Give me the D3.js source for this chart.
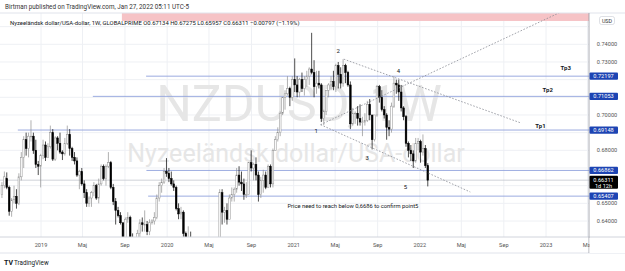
<!DOCTYPE html>
<html>
<head>
<meta charset="utf-8">
<script src="https://cdn.jsdelivr.net/npm/d3@7"></script>
<style>
  html, body { margin: 0; padding: 0; background: #fff; }
  svg { display: block; font-family: Roboto, "DejaVu Sans", sans-serif; }
</style>
</head>
<body>
<div id="chart"></div>
<script>
// NZDUSD weekly chart, rebuilt from a TradingView snapshot

// weekly bars [open, high, low, close], week starting Monday
const bars2018 = [
  [.6550,.6620,.6530,.6600],[.6600,.6680,.6585,.6650],[.6640,.6675,.6580,.6590],[.6590,.6600,.6430,.6455],
  [.6455,.6530,.6424,.6520],[.6520,.6600,.6500,.6540],[.6540,.6580,.6470,.6500],[.6500,.6670,.6490,.6650],
  [.6650,.6790,.6630,.6760],[.6760,.6880,.6700,.6860],[.6860,.6900,.6770,.6810],[.6810,.6900,.6760,.6880],
  [.6880,.6970,.6850,.6880],[.6880,.6900,.6780,.6800],[.6800,.6860,.6700,.6720],[.6720,.6740,.6660,.6710],
  [.6710,.6780,.6590,.6770]
];
const bars2019 = [
  [.6770,.6860,.6750,.6830],[.6830,.6850,.6740,.6760],[.6760,.6840,.6760,.6820],[.6820,.6940,.6810,.6900],
  [.6900,.6920,.6740,.6750],[.6750,.6880,.6740,.6870],[.6870,.6880,.6800,.6840],[.6840,.6900,.6780,.6790],
  [.6790,.6800,.6745,.6780],[.6780,.6870,.6770,.6840],[.6840,.6940,.6830,.6890],[.6890,.6920,.6770,.6810],
  [.6810,.6820,.6740,.6760],[.6760,.6790,.6720,.6740],[.6740,.6760,.6650,.6660],[.6660,.6690,.6580,.6680],
  [.6680,.6700,.6600,.6610],[.6610,.6630,.6530,.6560],[.6560,.6580,.6480,.6500],[.6500,.6540,.6480,.6530],
  [.6530,.6570,.6480,.6560],[.6560,.6620,.6540,.6600],[.6600,.6610,.6520,.6530],[.6530,.6640,.6500,.6610],
  [.6610,.6720,.6600,.6710],[.6710,.6720,.6630,.6640],[.6640,.6720,.6600,.6710],[.6710,.6790,.6700,.6730],
  [.6730,.6740,.6580,.6590],[.6590,.6610,.6490,.6510],[.6510,.6530,.6380,.6460],[.6460,.6480,.6420,.6430],
  [.6430,.6450,.6380,.6390],[.6390,.6390,.6270,.6300],[.6300,.6420,.6290,.6410],[.6410,.6450,.6390,.6420],
  [.6420,.6430,.6250,.6260],[.6260,.6330,.6240,.6250],[.6250,.6300,.6200,.6280],[.6280,.6350,.6270,.6330],
  [.6330,.6410,.6280,.6390],[.6390,.6420,.6340,.6380],[.6380,.6460,.6340,.6380],[.6380,.6400,.6320,.6340],
  [.6340,.6410,.6320,.6390],[.6390,.6410,.6380,.6400],[.6400,.6450,.6380,.6420],[.6420,.6550,.6410,.6530],
  [.6530,.6620,.6510,.6600],[.6600,.6640,.6560,.6620],[.6620,.6700,.6610,.6680],[.6680,.6756,.6650,.6670]
];
const bars2020 = [
  [.6670,.6700,.6620,.6640],[.6640,.6680,.6600,.6610],[.6610,.6630,.6570,.6590],[.6590,.6600,.6460,.6470],
  [.6470,.6500,.6410,.6440],[.6440,.6480,.6410,.6450],[.6450,.6460,.6310,.6330],[.6330,.6340,.6180,.6240],
  [.6240,.6370,.6220,.6240],[.6240,.6340,.5900,.5960],[.5960,.6020,.5470,.5700],[.5700,.6060,.5700,.6050],
  [.6050,.6060,.5840,.5890],[.5890,.6100,.5880,.6080],[.6080,.6100,.5920,.5970],[.5970,.6030,.5910,.5970],
  [.5970,.6150,.5960,.6060],[.6060,.6150,.6040,.6120],[.6120,.6140,.5920,.5960],[.5960,.6140,.5940,.6130],
  [.6130,.6230,.6080,.6220],[.6220,.6580,.6210,.6560],[.6560,.6580,.6380,.6450],[.6450,.6480,.6390,.6460],
  [.6460,.6500,.6380,.6410],[.6410,.6550,.6410,.6530],[.6530,.6590,.6510,.6550],[.6550,.6590,.6510,.6580],
  [.6580,.6700,.6560,.6660],[.6660,.6710,.6600,.6620],[.6620,.6680,.6570,.6610],[.6610,.6640,.6520,.6550],
  [.6550,.6620,.6530,.6550],[.6550,.6730,.6550,.6730],[.6730,.6800,.6680,.6700],[.6700,.6730,.6630,.6720],
  [.6720,.6760,.6630,.6660],[.6660,.6680,.6510,.6550],[.6550,.6650,.6530,.6630],[.6630,.6690,.6560,.6660],
  [.6660,.6680,.6580,.6590],[.6590,.6720,.6590,.6710],[.6710,.6720,.6590,.6610],[.6610,.6810,.6590,.6800],
  [.6800,.6880,.6800,.6860],[.6860,.6930,.6850,.6900],[.6900,.7020,.6880,.7010],[.7010,.7100,.7000,.7100],
  [.7100,.7140,.7030,.7120],[.7120,.7220,.7110,.7150],[.7150,.7160,.7050,.7100],[.7100,.7220,.7080,.7200]
];
const bars2021 = [
  [.7200,.7320,.7130,.7170],[.7170,.7220,.7100,.7130],[.7130,.7210,.7100,.7200],[.7200,.7240,.7130,.7150],
  [.7150,.7220,.7110,.7200],[.7200,.7250,.7160,.7220],[.7220,.7270,.7170,.7260],[.7260,.7465,.7230,.7240],
  [.7240,.7310,.7100,.7160],[.7160,.7250,.7120,.7180],[.7180,.7250,.7150,.7170],[.7170,.7180,.6960,.6980],
  [.6980,.7030,.6943,.7020],[.7020,.7140,.7000,.7140],[.7140,.7180,.7100,.7170],[.7170,.7220,.7140,.7190],
  [.7190,.7250,.7140,.7160],[.7160,.7290,.7130,.7280],[.7280,.7300,.7150,.7230],[.7230,.7270,.7150,.7180],
  [.7180,.7316,.7160,.7280],[.7280,.7290,.7180,.7240],[.7240,.7250,.7160,.7170],[.7170,.7190,.6920,.6950],
  [.6950,.7040,.6940,.7010],[.7010,.7020,.6950,.7010],[.7010,.7050,.6940,.6980],[.6980,.7060,.6940,.6960],
  [.6960,.6990,.6880,.6960],[.6960,.7010,.6940,.6970],[.6970,.7080,.6960,.7060],[.7060,.7090,.6970,.7000],
  [.7000,.7000,.6805,.6860],[.6860,.7000,.6850,.7000],[.7000,.7170,.6990,.7160],[.7160,.7170,.7070,.7100],
  [.7100,.7140,.7020,.7030],[.7030,.7050,.6980,.7000],[.7000,.7010,.6860,.6930],[.6930,.6970,.6880,.6920],
  [.6920,.7070,.6900,.7050],[.7050,.7219,.7040,.7180],[.7180,.7200,.7120,.7170],[.7170,.7200,.7080,.7130],
  [.7130,.7170,.7020,.7040],[.7040,.7050,.6970,.6990],[.6990,.7000,.6820,.6840],[.6840,.6850,.6760,.6800],
  [.6800,.6830,.6740,.6780],[.6780,.6800,.6700,.6740],[.6740,.6870,.6730,.6840],[.6840,.6870,.6800,.6850]
];
const bars2022 = [
  [.6850,.6860,.6730,.6790],[.6790,.6890,.6770,.6810],[.6810,.6830,.6700,.6713],[.67134,.67275,.65957,.66311]
];

const firstWeek = "2018-09-10";
const lastWeek = "2022-01-24";

// price axis: grid levels and the labels left visible next to the tags
const priceTicks = [0.64, 0.65, 0.66, 0.67, 0.68, 0.69, 0.70, 0.71, 0.72, 0.73, 0.74, 0.75];
const priceLabels = [0.64, 0.65, 0.68, 0.70, 0.73, 0.74];

// horizontal levels drawn on the chart: price and start date
const levelPrices = [0.72197, 0.71053, 0.69148, 0.66862, 0.65407];
const levelStarts = ["2019-11-01", "2019-05-31", "2018-10-26", "2019-11-02", "2019-11-07"];

// dashed trend lines [date1, price1, date2, price2]
const trendLines = [
  ["2021-05-26", 0.7316, "2022-10-20", 0.6955],
  ["2021-03-20", 0.6945, "2023-04-22", 0.7645],
  ["2021-03-20", 0.6945, "2022-05-27", 0.6564]
];

// wave labels and targets
const waveLabels = ["1", "2", "3", "4", "5"];
const waveDates = ["2021-03-07", "2021-05-10", "2021-08-02", "2021-10-31", "2021-11-20"];
const wavePrices = [0.6909, 0.7362, 0.6757, 0.7249, 0.6592];

const targetLabels = ["Tp3", "Tp2", "Tp1"];
const targetDates = ["2023-02-27", "2023-01-06", "2022-12-16"];
const targetPrices = [0.7266, 0.7141, 0.6938];

const noteText = "Price need to reach below 0,6686 to confirm point5";
const noteDate = "2020-12-14";
const notePrice = 0.6485;

// shaded zone at the top
const zoneStart = "2019-08-23";
const zonePrices = [0.7532, 0.78];

const lastClose = 0.66311;

const W = 625, H = 271;
const plotRight = 589, plotTop = 13, plotBottom = 237;

const svg = d3.select("#chart").append("svg")
  .attr("width", W).attr("height", H);

const x = d3.scaleUtc()
  .domain([new Date(Date.UTC(2019, 0, 1)), new Date(Date.UTC(2023, 0, 1))])
  .range([41, 546]);
const y = d3.scaleLinear()
  .domain([0.64, 0.74])
  .range([221, 44.3]);

const parse = d3.utcParse("%Y-%m-%d");

svg.append("defs").append("clipPath").attr("id", "plot-clip")
  .append("rect").attr("x", 0).attr("y", plotTop).attr("width", plotRight).attr("height", plotBottom - plotTop);

// header
svg.append("text")
  .attr("x", 5).attr("y", 8.5)
  .attr("font-size", 6.3).attr("fill", "#333")
  .text("Birtman published on TradingView.com, Jan 27, 2022 05:11 UTC-5");

// grid
const xTicks = d3.utcMonth.every(4).range(parse("2019-01-01"), parse("2023-06-01"));
const grid = svg.append("g");
grid.selectAll(".vg").data(xTicks).join("line")
  .attr("x1", d => x(d)).attr("x2", d => x(d))
  .attr("y1", plotTop).attr("y2", plotBottom)
  .attr("stroke", "#eef0f4").attr("stroke-width", 1);
grid.selectAll(".hg").data(priceTicks).join("line")
  .attr("x1", 0).attr("x2", plotRight)
  .attr("y1", d => y(d)).attr("y2", d => y(d))
  .attr("stroke", "#eef0f4").attr("stroke-width", 1);

const plot = svg.append("g").attr("clip-path", "url(#plot-clip)");

// zone
plot.append("rect")
  .attr("x", x(parse(zoneStart))).attr("width", plotRight - x(parse(zoneStart)))
  .attr("y", y(zonePrices[1])).attr("height", y(zonePrices[0]) - y(zonePrices[1]))
  .attr("fill", "#f6c3c6");

// watermark
plot.append("text")
  .attr("x", 299).attr("y", 121)
  .attr("text-anchor", "middle")
  .attr("font-size", 50).attr("fill", "#e6e6e6")
  .text("NZDUSD, 1W");
plot.append("text")
  .attr("x", 296).attr("y", 162)
  .attr("text-anchor", "middle")
  .attr("font-size", 25).attr("fill", "#e6e6e6")
  .text("Nyzeeländsk dollar/USA-dollar");

// current price line
plot.append("line")
  .attr("x1", 0).attr("x2", plotRight)
  .attr("y1", y(lastClose)).attr("y2", y(lastClose))
  .attr("stroke", "#c4c7ce").attr("stroke-width", 0.8);

// horizontal levels
plot.selectAll(".level").data(levelPrices).join("line")
  .attr("x1", (d, i) => x(parse(levelStarts[i]))).attr("x2", plotRight)
  .attr("y1", d => y(d)).attr("y2", d => y(d))
  .attr("stroke", "#90a2dc").attr("stroke-width", 0.9);

// candles
const weeks = d3.utcMonday.range(parse(firstWeek), d3.utcDay.offset(parse(lastWeek), 1));
const bars = [].concat(bars2018, bars2019, bars2020, bars2021, bars2022)
  .map((b, i) => ({ date: weeks[i], o: b[0], h: b[1], l: b[2], c: b[3] }))
  .filter(d => d.date);

const candle = plot.selectAll(".candle").data(bars).join("g");
candle.append("line")
  .attr("x1", d => x(d.date)).attr("x2", d => x(d.date))
  .attr("y1", d => y(d.h)).attr("y2", d => y(d.l))
  .attr("stroke", d => d.c >= d.o ? "#8f8f8f" : "#000")
  .attr("stroke-width", 0.7);
candle.append("rect")
  .attr("x", d => x(d.date) - 0.85).attr("width", 1.7)
  .attr("y", d => y(Math.max(d.o, d.c)))
  .attr("height", d => Math.max(0.7, Math.abs(y(d.o) - y(d.c))))
  .attr("fill", d => d.c >= d.o ? "#fff" : "#000")
  .attr("stroke", d => d.c >= d.o ? "#8f8f8f" : "#000")
  .attr("stroke-width", 0.5);

// dashed trend lines
plot.selectAll(".trend").data(trendLines).join("line")
  .attr("x1", d => x(parse(d[0]))).attr("y1", d => y(d[1]))
  .attr("x2", d => x(parse(d[2]))).attr("y2", d => y(d[3]))
  .attr("stroke", "#8a8d96").attr("stroke-width", 0.8)
  .attr("stroke-dasharray", "1.6,1.6");

// wave numbers
plot.selectAll(".wave").data(waveLabels).join("text")
  .attr("x", (d, i) => x(parse(waveDates[i])))
  .attr("y", (d, i) => y(wavePrices[i]) + 2)
  .attr("text-anchor", "middle")
  .attr("font-size", 6).attr("fill", "#131722")
  .text(d => d);

plot.selectAll(".tp").data(targetLabels).join("text")
  .attr("x", (d, i) => x(parse(targetDates[i])))
  .attr("y", (d, i) => y(targetPrices[i]) + 2)
  .attr("text-anchor", "middle")
  .attr("font-size", 6).attr("font-weight", "bold").attr("fill", "#131722")
  .text(d => d);

plot.append("text")
  .attr("x", x(parse(noteDate))).attr("y", y(notePrice) + 2)
  .attr("font-size", 5.8).attr("fill", "#131722")
  .text(noteText);

// legend row
const legend = svg.append("text")
  .attr("x", 10).attr("y", 25.3)
  .attr("font-size", 5.9).attr("fill", "#131722");
legend.append("tspan").text("Nyzeeländsk dollar/USA-dollar, 1W, GLOBALPRIME  ");
legend.append("tspan").text("O0.67134  H0.67275  L0.65957  C0.66311  −0.00797 (−1.19%)");

// frame lines
svg.append("line").attr("x1", 0).attr("x2", W).attr("y1", plotTop).attr("y2", plotTop)
  .attr("stroke", "#e0e3eb");
svg.append("line").attr("x1", 0).attr("x2", W).attr("y1", plotBottom).attr("y2", plotBottom)
  .attr("stroke", "#d1d4dc");
svg.append("line").attr("x1", 0).attr("x2", W).attr("y1", 253).attr("y2", 253)
  .attr("stroke", "#e0e3eb");
svg.append("line").attr("x1", plotRight).attr("x2", plotRight).attr("y1", plotTop).attr("y2", 253)
  .attr("stroke", "#9598a1").attr("stroke-width", 0.8);

// time axis labels
const monthName = d => d.getUTCMonth() === 0 ? d3.utcFormat("%Y")(d) : (d.getUTCMonth() === 4 ? "Maj" : "Sep");
svg.selectAll(".xl").data(xTicks.filter(d => x(d) < plotRight + 4)).join("text")
  .attr("x", d => x(d)).attr("y", 247)
  .attr("text-anchor", "middle")
  .attr("font-size", 5.6).attr("fill", "#555")
  .text(monthName);
// mask the overflowing label under the price axis
svg.append("rect").attr("x", plotRight + 0.5).attr("y", plotBottom + 1).attr("width", W - plotRight).attr("height", 15)
  .attr("fill", "#fff");

// price axis labels
svg.selectAll(".yl").data(priceLabels).join("text")
  .attr("x", 607).attr("y", d => y(d) + 2)
  .attr("text-anchor", "middle")
  .attr("font-size", 5.6).attr("fill", "#555")
  .text(d => d.toFixed(5));

// level tags
const tag = svg.selectAll(".tag").data(levelPrices).join("g");
tag.append("rect")
  .attr("x", plotRight + 0.5).attr("width", 28.5)
  .attr("y", d => y(d) - 3.6).attr("height", 7.2)
  .attr("rx", 1).attr("fill", "#1d44b3");
tag.append("text")
  .attr("x", 603.5).attr("y", d => y(d) + 2)
  .attr("text-anchor", "middle")
  .attr("font-size", 5.6).attr("fill", "#fff")
  .text(d => d.toFixed(5));

// last price tag
svg.append("rect")
  .attr("x", plotRight + 0.5).attr("y", y(lastClose) - 4.3)
  .attr("width", 28.5).attr("height", 13).attr("rx", 1)
  .attr("fill", "#000");
svg.append("text")
  .attr("x", 603.5).attr("y", y(lastClose) + 2)
  .attr("text-anchor", "middle").attr("font-size", 5.6).attr("fill", "#fff")
  .text(lastClose.toFixed(5));
svg.append("text")
  .attr("x", 603.5).attr("y", y(lastClose) + 7.6)
  .attr("text-anchor", "middle").attr("font-size", 5.6).attr("fill", "#fff")
  .text("1d 12h");

// USD badge
svg.append("rect")
  .attr("x", 599.5).attr("y", 16.5).attr("width", 15).attr("height", 8).attr("rx", 2)
  .attr("fill", "#fff").attr("stroke", "#c8cbd3").attr("stroke-width", 0.6);
svg.append("text")
  .attr("x", 607).attr("y", 22.5).attr("text-anchor", "middle")
  .attr("font-size", 5.4).attr("fill", "#333").text("USD");

// TradingView logo
svg.append("text")
  .attr("x", 4).attr("y", 265)
  .attr("font-size", 7).attr("font-weight", "bold").attr("fill", "#131722")
  .text("TV");
svg.append("text")
  .attr("x", 14).attr("y", 265)
  .attr("font-size", 6.3).attr("fill", "#131722")
  .text("TradingView");
</script>
</body>
</html>
